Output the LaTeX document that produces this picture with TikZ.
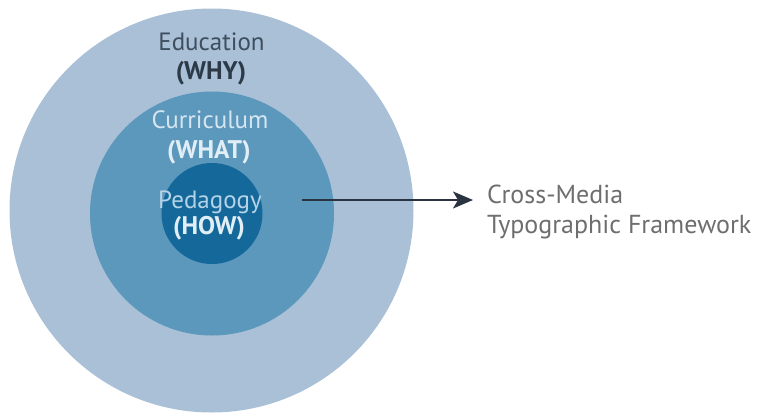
\documentclass[tikz,border=0pt]{standalone}
\usepackage{fontspec}
\setmainfont{PT Sans}
\usetikzlibrary{arrows.meta}
\definecolor{outerc}{HTML}{A9C0D6}
\definecolor{midc}{HTML}{5C97BC}
\definecolor{innerc}{HTML}{15699A}
\definecolor{edutxt}{HTML}{3E4E5E}
\definecolor{whytxt}{HTML}{2C3A48}
\definecolor{curtxt}{HTML}{D6E6F1}
\definecolor{pedtxt}{HTML}{B5D3E8}
\definecolor{howtxt}{HTML}{E2EEF6}
\definecolor{sidetxt}{HTML}{6E6E6E}
\definecolor{arrowc}{HTML}{2A3440}
\tikzset{
  ring/.style={circle, inner sep=0pt, draw=none},
  lbl/.style={inner sep=0pt, anchor=base, font=\fontsize{25}{25}\selectfont},
  blbl/.style={inner sep=0pt, anchor=base, font=\fontsize{25.5}{25}\selectfont\bfseries},
}
\begin{document}
\begin{tikzpicture}[x=1pt,y=-1pt]
\useasboundingbox (0,0) rectangle (761,413);
\node[ring, fill=outerc, minimum size=404pt] (outer) at (211.5,210.5) {};
\node[ring, fill=midc, minimum size=244pt] (mid) at (212,213.5) {};
\node[ring, fill=innerc, minimum size=101pt] (inner) at (212,213.5) {};
\node[lbl, text=edutxt] (edu) at (211.5,50) {Education};
\node[blbl, text=whytxt] (why) at (211,79) {(WHY)};
\node[lbl, text=curtxt] (cur) at (210,128) {Curriculum};
\node[blbl, text=howtxt] (what) at (209,158) {(WHAT)};
\node[lbl, text=pedtxt] (ped) at (210,208) {Pedagogy};
\node[blbl, text=howtxt] (how) at (209,234) {(HOW)};
\coordinate (start) at (302,200);
\node[inner sep=0pt, anchor=base west, align=left, text=sidetxt,
      font=\fontsize{26}{30}\selectfont] (side) at (487,233)
      {Cross-Media\\Typographic Framework};
\coordinate (tip) at (473,200);
\draw[arrowc, line width=1.6pt, -{Stealth[length=20pt,width=17pt,inset=5pt]}] (start) -- (tip);
\end{tikzpicture}
\end{document}
